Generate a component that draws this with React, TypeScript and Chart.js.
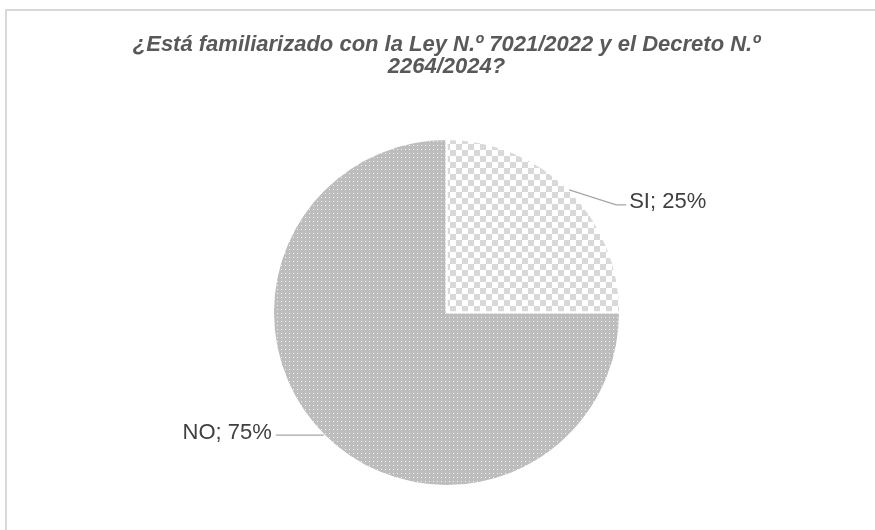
import React, { useEffect, useRef } from "react";
import { Chart, registerables } from "chart.js";

Chart.register(...registerables);

const categories = ["SI", "NO"];
const percentages = [25, 75];
const titleLines = [
  "¿Está familiarizado con la Ley N.º 7021/2022 y el Decreto N.º",
  "2264/2024?",
];

function makeChecker(): CanvasPattern | string {
  const c = document.createElement("canvas");
  const s = 6;
  c.width = s * 2;
  c.height = s * 2;
  const ctx = c.getContext("2d");
  if (!ctx) return "#e0e0e0";
  ctx.fillStyle = "#ffffff";
  ctx.fillRect(0, 0, s * 2, s * 2);
  ctx.fillStyle = "#d9d9d9";
  ctx.fillRect(0, 0, s, s);
  ctx.fillRect(s, s, s, s);
  return ctx.createPattern(c, "repeat") || "#e0e0e0";
}

function makeDots(): CanvasPattern | string {
  const c = document.createElement("canvas");
  c.width = 4;
  c.height = 4;
  const ctx = c.getContext("2d");
  if (!ctx) return "#c0c0c0";
  ctx.fillStyle = "#bdbdbd";
  ctx.fillRect(0, 0, 4, 4);
  ctx.fillStyle = "#f4f4f4";
  ctx.fillRect(1, 1, 1, 1);
  return ctx.createPattern(c, "repeat") || "#c0c0c0";
}

const labelPlugin = {
  id: "pieLabels",
  afterDatasetsDraw(chart: any) {
    const ctx = chart.ctx;
    const meta = chart.getDatasetMeta(0);
    ctx.save();
    ctx.font = "22px 'Liberation Sans', Arial, sans-serif";
    ctx.fillStyle = "#404040";
    ctx.strokeStyle = "#a6a6a6";
    ctx.lineWidth = 1.3;
    ctx.textBaseline = "middle";
    meta.data.forEach((arc: any, i: number) => {
      const { x, y, startAngle, endAngle, outerRadius } = arc.getProps(
        ["x", "y", "startAngle", "endAngle", "outerRadius"],
        true
      );
      const mid = (startAngle + endAngle) / 2;
      const ex = x + Math.cos(mid) * outerRadius;
      const ey = y + Math.sin(mid) * outerRadius;
      const text = `${categories[i]}; ${percentages[i]}%`;
      ctx.beginPath();
      if (Math.cos(mid) >= 0) {
        const bx = ex + 47;
        const by = ey + 15;
        ctx.moveTo(ex, ey);
        ctx.lineTo(bx, by);
        ctx.lineTo(bx + 10, by);
        ctx.stroke();
        ctx.textAlign = "left";
        ctx.fillText(text, bx + 13, by - 3);
      } else {
        const bx = ex - 48;
        ctx.moveTo(ex, ey);
        ctx.lineTo(bx, ey);
        ctx.stroke();
        ctx.textAlign = "right";
        ctx.fillText(text, bx - 4, ey - 2);
      }
    });
    ctx.restore();
  },
};

export default function App() {
  const ref = useRef<HTMLCanvasElement>(null);
  useEffect(() => {
    document.body.style.margin = "0";
    if (!ref.current) return;
    const chart = new Chart(ref.current, {
      type: "pie",
      data: {
        labels: categories,
        datasets: [
          {
            data: percentages,
            backgroundColor: [makeChecker(), makeDots()],
            borderColor: "#ffffff",
            borderWidth: 2,
          },
        ],
      },
      options: {
        responsive: false,
        animation: false,
        layout: { padding: { top: 34, left: 18, right: 0, bottom: 43 } },
        plugins: {
          legend: { display: false },
          tooltip: { enabled: false },
          title: {
            display: true,
            text: titleLines,
            color: "#595959",
            font: {
              family: "'Liberation Sans', Arial, sans-serif",
              size: 22,
              weight: "bold",
              style: "italic",
              lineHeight: 1.0,
            },
            padding: { top: 0, bottom: 60 },
          },
        },
      },
      plugins: [labelPlugin],
    });
    return () => chart.destroy();
  }, []);
  return (
    <div style={{ position: "relative", width: 875, height: 530, overflow: "hidden", background: "#fff" }}>
      <div
        style={{
          position: "absolute",
          left: 5,
          top: 9,
          width: 900,
          height: 600,
          border: "2px solid #d9d9d9",
          boxSizing: "border-box",
        }}
      />
      <canvas ref={ref} width={875} height={530} style={{ position: "absolute", left: 0, top: 0 }} />
    </div>
  );
}
